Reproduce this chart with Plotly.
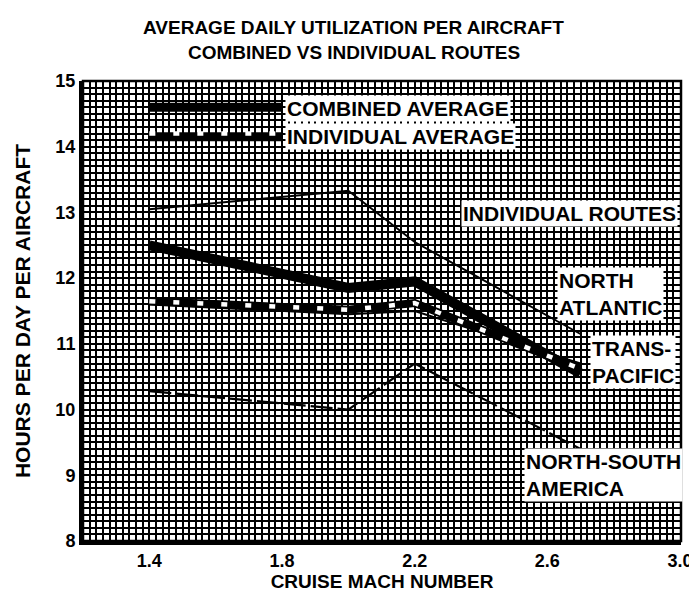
import plotly.graph_objects as go

# ---- data ----
mach = [1.4, 2.0, 2.2, 2.7]
north_atlantic = [13.05, 13.33, 12.55, 11.15]
trans_pacific = [11.6, 11.45, 11.5, 10.7]
north_south_america = [10.28, 10.0, 10.7, 9.4]
combined_average = [12.5, 11.85, 11.95, 10.55]
individual_average = [11.65, 11.52, 11.62, 10.62]

x_tick_values = [1.4, 1.8, 2.2, 2.6, 3.0]
x_tick_labels = ["1.4", "1.8", "2.2", "2.6", "3.0"]
y_tick_values = [8, 9, 10, 11, 12, 13, 14, 15]
y_tick_labels = ["8", "9", "10", "11", "12", "13", "14", "15"]

FONT = "Liberation Sans, Arial, sans-serif"
GRID = "#000000"
ML, MR, MT, MB = 75, 18, 73, 54
W, H = 697, 594

fig = go.Figure()

# individual routes (thin lines)
fig.add_trace(go.Scatter(x=mach, y=north_atlantic, mode="lines",
                         line=dict(color="black", width=2), showlegend=False))
fig.add_trace(go.Scatter(x=mach, y=trans_pacific, mode="lines",
                         line=dict(color="black", width=2), showlegend=False))
fig.add_trace(go.Scatter(x=mach, y=north_south_america, mode="lines",
                         line=dict(color="black", width=2.2, dash="22px,5px"),
                         showlegend=False))
# combined average (thick solid)
fig.add_trace(go.Scatter(x=mach, y=combined_average, mode="lines",
                         line=dict(color="black", width=10), showlegend=False))
# individual average (thick black with white notches)
fig.add_trace(go.Scatter(x=mach, y=individual_average, mode="lines",
                         line=dict(color="black", width=8), showlegend=False))
fig.add_trace(go.Scatter(x=mach, y=individual_average, mode="lines",
                         line=dict(color="white", width=4.5, dash="6px,18px"),
                         showlegend=False))

# legend keys drawn inside the plot
fig.add_shape(type="line", xref="x", yref="y", x0=1.4, x1=1.8, y0=14.6, y1=14.6,
              line=dict(color="black", width=9))
fig.add_shape(type="line", xref="x", yref="y", x0=1.4, x1=1.8, y0=14.15, y1=14.15,
              line=dict(color="black", width=9))
fig.add_shape(type="line", xref="x", yref="y", x0=1.4, x1=1.8, y0=14.2, y1=14.2,
              line=dict(color="white", width=4.5, dash="6px,18px"))

# plot frame (top/right thinner)
fig.add_shape(type="rect", xref="x domain", yref="y domain", x0=0, x1=1, y0=0, y1=1,
              line=dict(color="black", width=2.5), layer="above")

def label(text, x, y):
    fig.add_annotation(text=text, x=x, y=y, xref="x", yref="y", xanchor="left",
                       yanchor="middle", showarrow=False, align="left",
                       bgcolor="white", borderpad=1,
                       font=dict(family=FONT, size=21, color="black", weight="bold"))

label("COMBINED AVERAGE", 1.81, 14.58)
label("INDIVIDUAL AVERAGE", 1.81, 14.15)
label("INDIVIDUAL ROUTES", 2.34, 12.98)
label("NORTH<br>ATLANTIC", 2.63, 11.76)
label("TRANS-<br>PACIFIC", 2.73, 10.72)
label("NORTH-SOUTH<br>AMERICA", 2.53, 9.01)

# chart title (two centred lines above the plot)
title_x = (W / 2 - ML) / (W - ML - MR)
for text, shift in [("AVERAGE DAILY UTILIZATION PER AIRCRAFT", MT - 19),
                    ("COMBINED VS INDIVIDUAL ROUTES", MT - 44)]:
    fig.add_annotation(text=text, xref="paper", yref="paper", x=title_x, y=1,
                       xanchor="center", yanchor="middle", yshift=shift,
                       showarrow=False,
                       font=dict(family=FONT, size=19, color="black", weight="bold"))

fig.update_layout(
    width=W, height=H,
    margin=dict(l=ML, r=MR, t=MT, b=MB),
    paper_bgcolor="white", plot_bgcolor="white",
    showlegend=False,
    font=dict(family=FONT, color="black"),
)

fig.update_xaxes(
    range=[1.2, 3.003], tickvals=x_tick_values, ticktext=x_tick_labels,
    tickfont=dict(family=FONT, size=18, weight="bold"),
    showline=True, linecolor="black", linewidth=4,
    showgrid=True, gridcolor=GRID, gridwidth=1.8,
    minor=dict(dtick=0.02, tick0=1.2, showgrid=True, gridcolor=GRID, gridwidth=1.8),
    ticks="", zeroline=False,
    title=dict(text="CRUISE MACH NUMBER", standoff=6,
               font=dict(family=FONT, size=19, weight="bold")),
)
fig.update_yaxes(
    range=[8, 15], tickvals=y_tick_values, ticktext=y_tick_labels,
    tickfont=dict(family=FONT, size=18, weight="bold"),
    showline=True, linecolor="black", linewidth=4,
    showgrid=True, gridcolor=GRID, gridwidth=1.8,
    minor=dict(dtick=0.1, tick0=8, showgrid=True, gridcolor=GRID, gridwidth=1.8),
    ticks="", zeroline=False,
    title=dict(text="HOURS PER DAY PER AIRCRAFT", standoff=20,
               font=dict(family=FONT, size=21, weight="bold")),
)

fig.write_html("out.html")
